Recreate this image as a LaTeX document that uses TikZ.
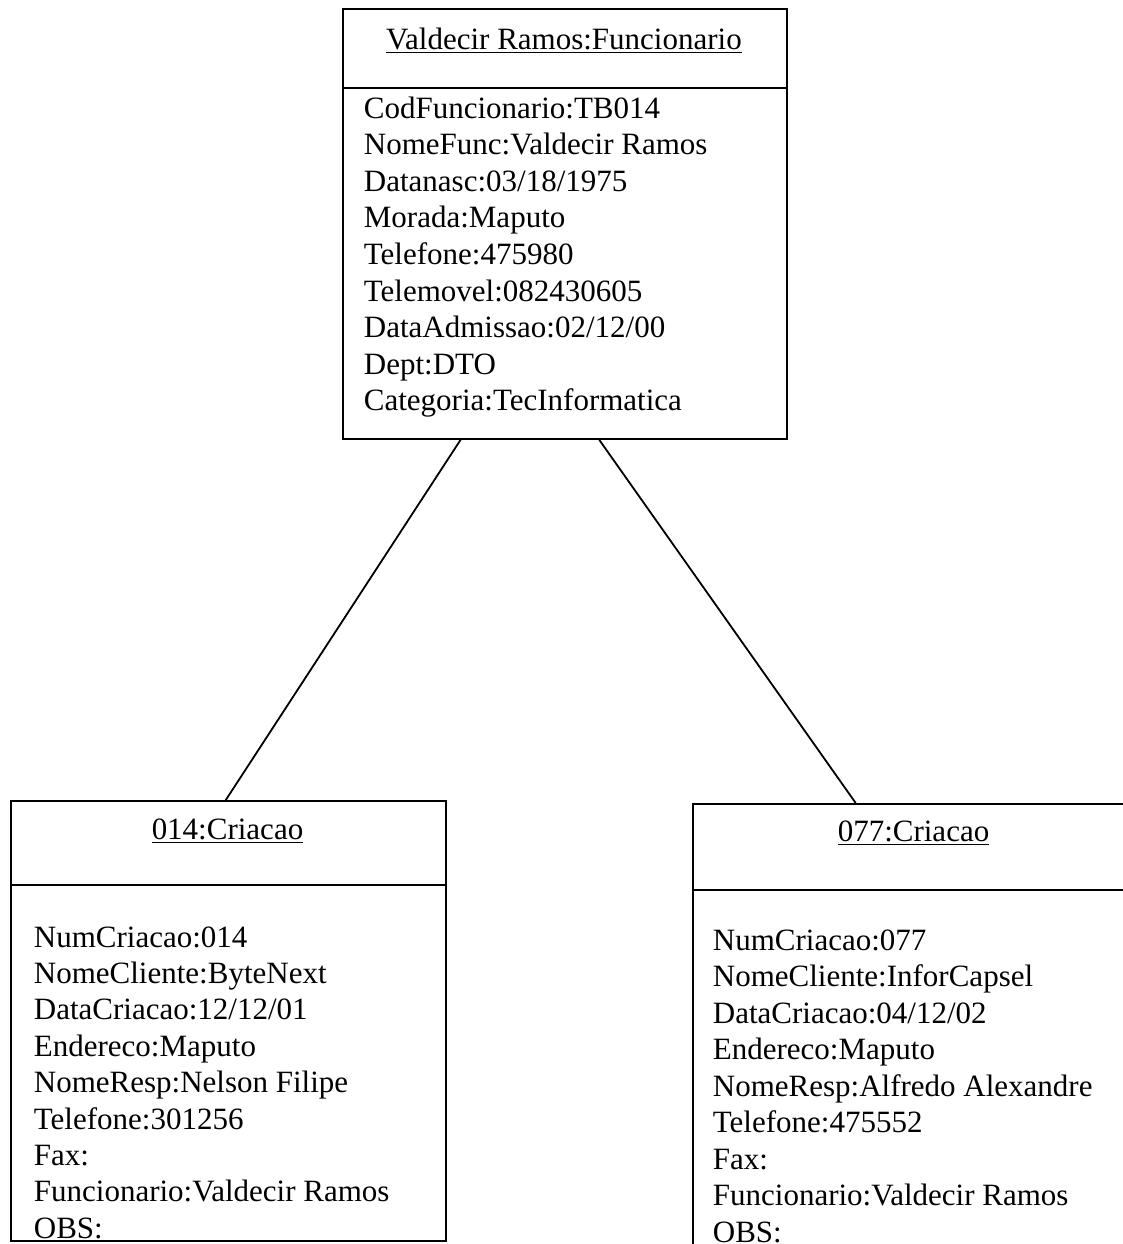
\documentclass[tikz,border=0pt]{standalone}
\usepackage{fontspec}
\setmainfont{Liberation Serif}
\usetikzlibrary{positioning, calc}

\tikzset{
  objbox/.style={draw, line width=0.9pt, anchor=north west, inner sep=0pt},
  attr/.style={anchor=base west, inner sep=0pt, font=\fontsize{15.5}{18.3}\selectfont},
  objtitle/.style={anchor=base, inner sep=0pt, font=\fontsize{15.5}{18.3}\selectfont},
}

\begin{document}
\begin{tikzpicture}[x=0.5pt, y=-0.5pt, line width=0.9pt]
  \useasboundingbox (0,0) rectangle (1123,1244);
  % Funcionario object
  \node[objbox, minimum width=222pt, minimum height=215pt] (func) at (342,8) {};
  \draw ([yshift=-40pt]func.north west) -- ([yshift=-40pt]func.north east);
  \node[objtitle] (func-title) at (564,49) {\underline{Valdecir Ramos:Funcionario}};
  \foreach \txt [count=\i from 0] in {CodFuncionario:TB014, NomeFunc:Valdecir Ramos,
      Datanasc:03/18/1975, Morada:Maputo, Telefone:475980,
      Telemovel:082430605, DataAdmissao:02/12/00, Dept:DTO,
      Categoria:TecInformatica}{
    \node[attr] (func-\i) at (363, 118+\i*36.6) {\txt};
  }
  % Criacao 014
  \node[objbox, minimum width=217.5pt, minimum height=220pt] (cr014) at (10,800) {};
  \draw ([yshift=-42.5pt]cr014.north west) -- ([yshift=-42.5pt]cr014.north east);
  \node[objtitle] (cr014-title) at (227.5,839) {\underline{014:Criacao}};
  \foreach \txt [count=\i from 0] in {NumCriacao:014, NomeCliente:ByteNext,
      DataCriacao:12/12/01, Endereco:Maputo, NomeResp:Nelson Filipe,
      Telefone:301256, Fax:, Funcionario:Valdecir Ramos, OBS:}{
    \node[attr] (cr014-\i) at (33, 947+\i*36.4) {\txt};
  }
  % Criacao 077
  \node[objbox, minimum width=221.5pt, minimum height=230pt] (cr077) at (692,803) {};
  \draw ([yshift=-43.5pt]cr077.north west) -- ([yshift=-43.5pt]cr077.north east);
  \node[objtitle] (cr077-title) at (913.5,841) {\underline{077:Criacao}};
  \foreach \txt [count=\i from 0] in {NumCriacao:077, NomeCliente:InforCapsel,
      DataCriacao:04/12/02, Endereco:Maputo, NomeResp:Alfredo Alexandre,
      Telefone:475552, Fax:, Funcionario:Valdecir Ramos, OBS:}{
    \node[attr] (cr077-\i) at (712, 950+\i*36.5) {\txt};
  }
  % Links
  \draw ($(func.south west)!0.266!(func.south east)$) -- ($(cr014.north west)!0.494!(cr014.north east)$);
  \draw ($(func.south west)!0.577!(func.south east)$) -- ($(cr077.north west)!0.368!(cr077.north east)$);
\end{tikzpicture}
\end{document}
